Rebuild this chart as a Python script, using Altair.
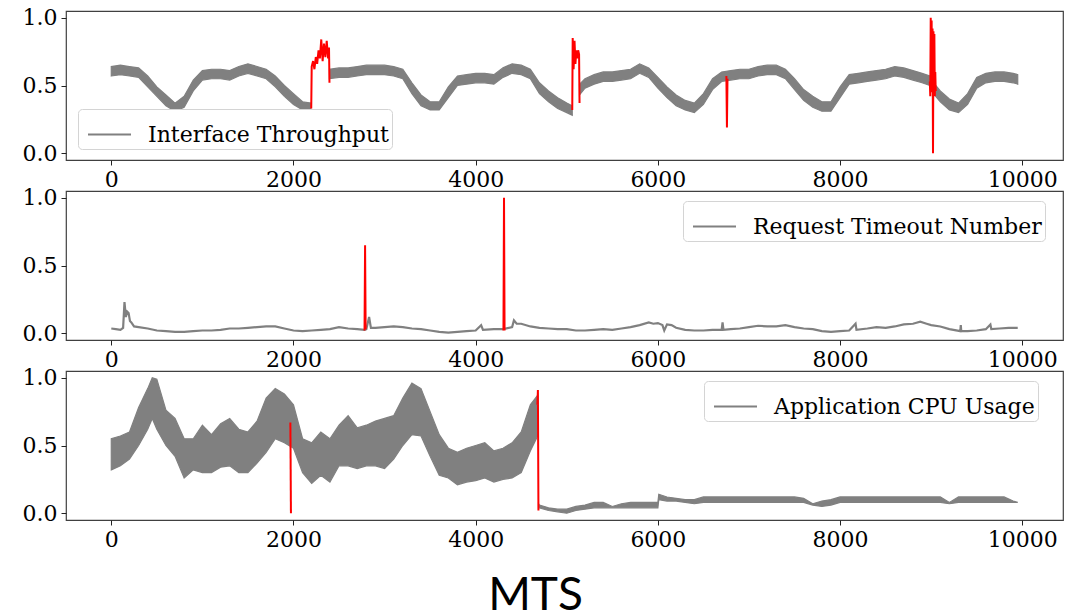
import altair as alt
import pandas as pd

# ---------------- Panel 1: Interface Throughput (noisy band lo/hi) ----------------
P1_NAME = "Interface Throughput"
P1_X = [0, 100, 200, 300, 400, 500, 600, 700, 800, 900,
        1000, 1100, 1200, 1300, 1400, 1500, 1600, 1700, 1800, 1900,
        2000, 2100, 2190,
        2395, 2500, 2600, 2700, 2800, 2900, 3000, 3100, 3200, 3300,
        3400, 3500, 3600, 3700, 3800, 3900, 4000, 4100, 4200, 4300,
        4400, 4500, 4600, 4700, 4800, 4900, 5000, 5060,
        5140, 5200, 5300, 5400, 5500, 5600, 5700, 5800, 5900, 6000,
        6100, 6200, 6300, 6400, 6500, 6600, 6700, 6800, 6900, 7000,
        7100, 7200, 7300, 7400, 7500, 7600, 7700, 7800, 7900, 8000,
        8100, 8200, 8300, 8400, 8500, 8600, 8700, 8800, 8900, 8985,
        9050, 9100, 9200, 9300, 9400, 9500, 9600, 9700, 9800, 9900,
        9950]
P1_LO = [.57, .58, .57, .56, .49, .42, .35, .31, .34, .46,
         .54, .55, .55, .54, .57, .59, .57, .55, .49, .42,
         .36, .32, .31,
         .55, .56, .56, .57, .58, .58, .58, .57, .55, .44,
         .35, .32, .32, .41, .50, .51, .52, .52, .51, .56,
         .59, .58, .55, .44, .38, .33, .30, .28,
         .43, .48, .51, .53, .53, .54, .55, .59, .56, .48,
         .41, .35, .32, .30, .36, .47, .53, .54, .55, .55,
         .57, .58, .58, .55, .47, .39, .34, .31, .31, .41,
         .51, .52, .53, .54, .55, .57, .56, .54, .52, .50,
         .42, .38, .32, .30, .36, .48, .52, .53, .53, .52,
         .51]
P1_HI = [.64, .65, .64, .63, .57, .49, .43, .37, .42, .54,
         .61, .62, .62, .61, .64, .66, .64, .62, .57, .50,
         .44, .38, .37,
         .62, .63, .63, .64, .65, .65, .65, .64, .62, .52,
         .43, .38, .38, .49, .57, .58, .59, .59, .58, .63,
         .66, .65, .62, .52, .46, .41, .37, .35,
         .51, .55, .58, .60, .60, .61, .62, .66, .63, .56,
         .49, .43, .39, .37, .44, .55, .60, .61, .62, .62,
         .64, .65, .65, .62, .55, .47, .42, .38, .38, .49,
         .58, .59, .60, .61, .62, .64, .63, .61, .59, .57,
         .50, .46, .40, .37, .44, .56, .59, .60, .60, .59,
         .58]
P1_GAP_STARTS = [2190, 5060, 8985]

R1_X = [2195, 2200, 2215, 2230, 2245, 2260, 2275, 2290, 2305, 2320, 2335, 2350, 2365, 2380, 2390, 2395,
        5060, 5065, 5075, 5085, 5095, 5105, 5115, 5125, 5135, 5140,
        6752, 6758, 6764,
        8985, 8990, 8995, 9000, 9005, 9010, 9015, 9020, 9025, 9030, 9035, 9040, 9045, 9050]
R1_Y = [0.33, 0.64, 0.68, 0.62, 0.71, 0.66, 0.76, 0.70, 0.84, 0.68, 0.81, 0.71, 0.83, 0.70, 0.78, 0.52,
        0.32, 0.85, 0.62, 0.83, 0.66, 0.76, 0.70, 0.76, 0.73, 0.37,
        0.57, 0.19, 0.55,
        0.53, 0.42, 1.00, 0.45, 0.98, 0.50, 0.92, 0.00, 0.90, 0.45, 0.88, 0.42, 0.60, 0.46]
R1_SEG = [0] * 16 + [1] * 10 + [2] * 3 + [3] * 14

# ---------------- Panel 2: Request Timeout Number (line) ----------------
P2_NAME = "Request Timeout Number"
P2_X = [0, 50, 100, 130, 145, 160, 175, 190, 205, 220,
        250, 300, 400, 500, 600, 700, 800, 900, 1000, 1100,
        1200, 1300, 1400, 1500, 1600, 1700, 1800, 1900, 2000, 2100,
        2200, 2300, 2400, 2500, 2600, 2700, 2780, 2800, 2830, 2850,
        2900, 3000, 3100, 3200, 3300, 3400, 3500, 3600, 3700, 3800,
        3900, 4000, 4060, 4080, 4200, 4300, 4400, 4420, 4450, 4500,
        4600, 4700, 4800, 4900, 5000, 5100, 5200, 5300, 5400, 5500,
        5600, 5700, 5800, 5900, 5950, 6000, 6050, 6070, 6100, 6150,
        6200, 6300, 6400, 6500, 6600, 6700, 6710, 6720, 6800, 6900,
        7000, 7100, 7200, 7300, 7400, 7500, 7600, 7700, 7800, 7900,
        8000, 8100, 8170, 8180, 8300, 8400, 8500, 8600, 8700, 8800,
        8880, 8950, 9000, 9100, 9200, 9320, 9325, 9330, 9400, 9500,
        9600, 9650, 9660, 9750, 9850, 9950]
P2_Y = [.035, .03, .025, .04, .23, .12, .16, .15, .09, .08,
        .05, .045, .035, .02, .015, .01, .01, .015, .02, .02,
        .025, .035, .035, .04, .045, .05, .05, .035, .02, .015,
        .02, .025, .03, .045, .035, .03, .025, .03, .12, .04,
        .04, .045, .05, .045, .035, .03, .02, .01, .005, .01,
        .015, .02, .06, .025, .03, .03, .045, .095, .07, .07,
        .05, .04, .035, .03, .03, .02, .02, .025, .03, .025,
        .035, .045, .06, .08, .07, .075, .06, .02, .065, .06,
        .04, .025, .02, .02, .025, .025, .08, .025, .03, .035,
        .045, .055, .05, .05, .06, .045, .035, .03, .015, .01,
        .015, .02, .07, .025, .035, .045, .04, .05, .065, .07,
        .085, .07, .06, .05, .03, .015, .06, .015, .015, .02,
        .03, .065, .03, .035, .04, .04]
R2_X = [2780, 2786, 2792, 4305, 4311, 4317]
R2_Y = [0.02, 0.65, 0.03, 0.02, 1.00, 0.02]
R2_SEG = [0, 0, 0, 1, 1, 1]

# ---------------- Panel 3: Application CPU Usage (noisy band lo/hi) ----------------
P3_NAME = "Application CPU Usage"
P3_X = [0, 100, 200, 300, 400, 450, 500, 600, 700, 800,
        900, 1000, 1100, 1200, 1300, 1400, 1500, 1600, 1700, 1800,
        1900, 2000, 2100, 2200, 2300, 2400, 2500, 2600, 2700, 2800,
        2900, 3000, 3100, 3200, 3300, 3400, 3500, 3600, 3700, 3800,
        3900, 4000, 4100, 4200, 4300, 4400, 4500, 4600, 4680,
        4690, 4700, 4800, 4900, 5000, 5100, 5200, 5300, 5400, 5500,
        5600, 5700, 5800, 5900, 6000, 6010, 6100, 6200, 6300, 6400,
        6500, 6600, 6700, 6800, 6900, 7000, 7100, 7200, 7300, 7400,
        7500, 7600, 7700, 7800, 7900, 8000, 8100, 8200, 8300, 8400,
        8500, 8600, 8700, 8800, 8900, 9000, 9100, 9200, 9300, 9400,
        9500, 9600, 9700, 9800, 9900, 9950]
P3_LO = [.32, .35, .40, .50, .62, .70, .62, .50, .42, .26,
         .32, .30, .30, .34, .35, .30, .30, .37, .45, .55,
         .52, .48, .30, .22, .28, .23, .35, .35, .33, .35,
         .35, .33, .40, .50, .58, .57, .42, .28, .26, .21,
         .23, .24, .26, .23, .25, .26, .30, .46, .57,
         .04, .04, .02, .01, .00, .02, .03, .04, .04, .04,
         .04, .04, .04, .04, .04, .10, .09, .09, .08, .07,
         .08, .08, .08, .08, .08, .08, .08, .08, .08, .08,
         .08, .08, .06, .05, .06, .08, .08, .08, .08, .08,
         .08, .08, .08, .08, .08, .08, .08, .07, .08, .08,
         .08, .08, .08, .08, .08, .08]
P3_HI = [.55, .57, .60, .78, .92, 1.0, .99, .76, .70, .55,
         .55, .65, .58, .66, .70, .62, .60, .68, .85, .92,
         .88, .80, .55, .52, .60, .55, .65, .72, .63, .65,
         .68, .70, .72, .85, .96, .92, .75, .58, .48, .45,
         .48, .50, .52, .46, .48, .52, .60, .80, .87,
         .07, .06, .04, .03, .03, .05, .06, .08, .08, .05,
         .07, .08, .08, .08, .08, .14, .12, .11, .10, .10,
         .12, .12, .12, .12, .12, .12, .12, .12, .12, .12,
         .12, .11, .07, .09, .10, .12, .12, .12, .12, .12,
         .12, .12, .12, .12, .12, .12, .12, .08, .12, .12,
         .12, .12, .12, .12, .09, .08]
P3_GAP_STARTS = [4680]
R3_X = [1966, 1972, 4678, 4683, 4689]
R3_Y = [0.67, 0.00, 0.80, 0.91, 0.02]
R3_SEG = [0, 0, 1, 1, 1]

X_TICKS = [0, 2000, 4000, 6000, 8000, 10000]
Y_TICKS = [0.0, 0.5, 1.0]

GRAY = "#808080"
RED = "#ff0000"
FONT = "DejaVu Serif"
FS = 22
W, H = 997, 149


def seg_ids(xs, gaps):
    return [sum(1 for g in gaps if x > g) for x in xs]


xscale = alt.Scale(domain=[-497, 10447], nice=False, zero=False)
yscale = alt.Scale(domain=[-0.05, 1.05], nice=False, zero=False)
xaxis = alt.Axis(values=X_TICKS, format="d", title=None)
yaxis = alt.Axis(values=Y_TICKS, format=".1f", title=None)


def legend(lx, ly):
    return alt.Legend(
        title=None, orient="none", legendX=lx, legendY=ly,
        symbolType="stroke", symbolStrokeColor=GRAY, symbolStrokeWidth=2,
        symbolSize=1849, symbolOffset=6, labelFont=FONT, labelFontSize=FS,
        labelColor="black", labelOffset=16, padding=3, strokeColor="#d4d4d4",
        fillColor="white", cornerRadius=4, labelLimit=400,
    )


def band_panel(name, xs, lo, hi, gaps, rx, ry, rseg, lx, ly):
    df = pd.DataFrame({"x": xs, "lo": lo, "hi": hi,
                       "seg": seg_ids(xs, gaps), "series": name})
    dr = pd.DataFrame({"x": rx, "y": ry, "seg": rseg})
    band = alt.Chart(df).mark_area(stroke=GRAY, strokeWidth=1.2).encode(
        x=alt.X("x:Q", scale=xscale, axis=xaxis),
        y=alt.Y("lo:Q", scale=yscale, axis=yaxis),
        y2="hi:Q",
        detail="seg:N",
        color=alt.Color("series:N", scale=alt.Scale(domain=[name], range=[GRAY]),
                        legend=legend(lx, ly)),
    )
    red = alt.Chart(dr).mark_line(color=RED, strokeWidth=2).encode(
        x=alt.X("x:Q", scale=xscale, axis=xaxis),
        y=alt.Y("y:Q", scale=yscale, axis=yaxis),
        detail="seg:N",
    )
    return alt.layer(band, red).properties(width=W, height=H)


p1 = band_panel(P1_NAME, P1_X, P1_LO, P1_HI, P1_GAP_STARTS,
                R1_X, R1_Y, R1_SEG, 12, 98)
p3 = band_panel(P3_NAME, P3_X, P3_LO, P3_HI, P3_GAP_STARTS,
                R3_X, R3_Y, R3_SEG, 638, 10)

df2 = pd.DataFrame({"x": P2_X, "y": P2_Y, "series": P2_NAME})
dr2 = pd.DataFrame({"x": R2_X, "y": R2_Y, "seg": R2_SEG})
line2 = alt.Chart(df2).mark_line(strokeWidth=2.2).encode(
    x=alt.X("x:Q", scale=xscale, axis=xaxis),
    y=alt.Y("y:Q", scale=yscale, axis=yaxis),
    color=alt.Color("series:N", scale=alt.Scale(domain=[P2_NAME], range=[GRAY]),
                    legend=legend(617, 10)),
)
red2 = alt.Chart(dr2).mark_line(color=RED, strokeWidth=2).encode(
    x=alt.X("x:Q", scale=xscale, axis=xaxis),
    y=alt.Y("y:Q", scale=yscale, axis=yaxis),
    detail="seg:N",
)
p2 = alt.layer(line2, red2).properties(width=W, height=H)

chart = alt.vconcat(p1, p2, p3, spacing=-6.5).resolve_scale(
    color="independent"
).resolve_legend(color="independent").properties(
    title=alt.TitleParams(text="MTS", orient="bottom", font="Lato", fontSize=46,
                          fontWeight="normal", color="black", offset=23,
                          anchor="middle", dx=-7),
    padding={"left": 21, "top": 6, "right": 10, "bottom": 0},
).configure_view(
    stroke="#404040", strokeWidth=1.2
).configure_axis(
    labelFont=FONT, labelFontSize=FS, labelColor="black", tickColor="#222",
    tickSize=5, tickWidth=1, grid=False, domain=False, labelPadding=4,
)

chart.save("out.html", embed_options={"renderer": "svg", "actions": False})
